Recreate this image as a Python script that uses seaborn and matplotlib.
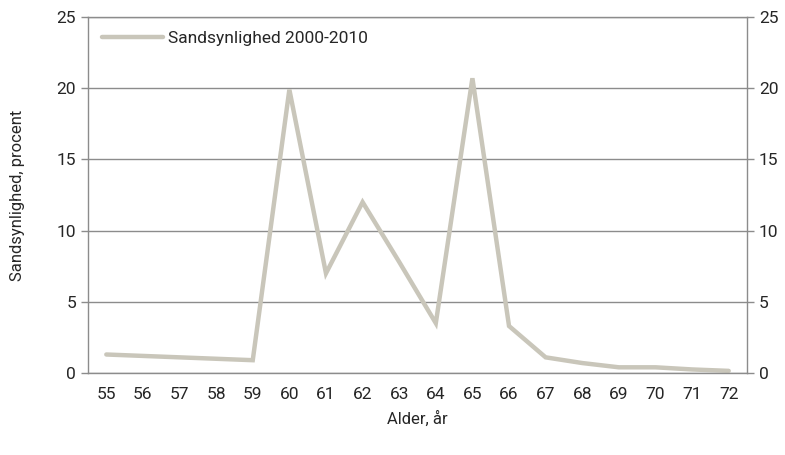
import matplotlib
matplotlib.use("Agg")
import matplotlib.pyplot as plt
import seaborn as sns
import pandas as pd
import numpy as np

sns.set_theme(style="white")
plt.rcParams['font.family'] = ['Liberation Sans Narrow', 'Roboto', 'DejaVu Sans']

# --- Data ---
ages = [55, 56, 57, 58, 59, 60, 61, 62, 63, 64, 65, 66, 67, 68, 69, 70, 71, 72]
prob = [1.3, 1.2, 1.1, 1.0, 0.9, 19.9, 7.0, 12.0, 7.8, 3.5, 20.7, 3.3, 1.1, 0.7, 0.4, 0.4, 0.25, 0.15]
series_label = 'Sandsynlighed 2000-2010'
yticks = [0, 5, 10, 15, 20, 25]

df = pd.DataFrame({'Alder': ages, 'Sandsynlighed': prob})

line_color = '#C9C6BA'
grid_color = '#8C8C8C'

fig = plt.figure(figsize=(7.85, 4.55), dpi=100)
ax = fig.add_axes([0.1121, 0.1802, 0.8395, 0.7824])

sns.lineplot(data=df, x='Alder', y='Sandsynlighed', ax=ax, color=line_color,
             linewidth=3.2, label=series_label, solid_joinstyle='miter')

ax.set_xlim(ages[0] - 0.5, ages[-1] + 0.5)
ax.set_ylim(0, 25)
ax.set_yticks(yticks)
ax.yaxis.grid(True, color=grid_color, linewidth=1)
ax.set_axisbelow(True)

# category axis: labels at centers, tick marks between categories
ax.set_xticks(ages)
ax.set_xticklabels([str(a) for a in ages], fontsize=12.5)
ax.set_xticks(np.arange(ages[0] - 0.5, ages[-1] + 1.0, 1.0), minor=True)
ax.tick_params(axis='x', which='major', length=0, pad=10)
ax.tick_params(axis='x', which='minor', length=5, color=grid_color, width=1, direction='out')

ax.tick_params(axis='y', which='major', length=5, color=grid_color, width=1,
               direction='out', labelsize=12.5, right=True, labelright=True, left=True)

for side in ['left', 'right', 'bottom', 'top']:
    ax.spines[side].set_visible(True)
    ax.spines[side].set_color(grid_color)
    ax.spines[side].set_linewidth(1)

ax.set_xlabel('Alder, år', fontsize=12, labelpad=6)
ax.set_ylabel('Sandsynlighed, procent', fontsize=12, labelpad=23)

leg = ax.legend(loc='upper left', frameon=False, fontsize=12.5, handlelength=3.5,
                handletextpad=0.3, borderaxespad=0.4, bbox_to_anchor=(0.0, 1.0))

fig.savefig('out.png', dpi=100)
